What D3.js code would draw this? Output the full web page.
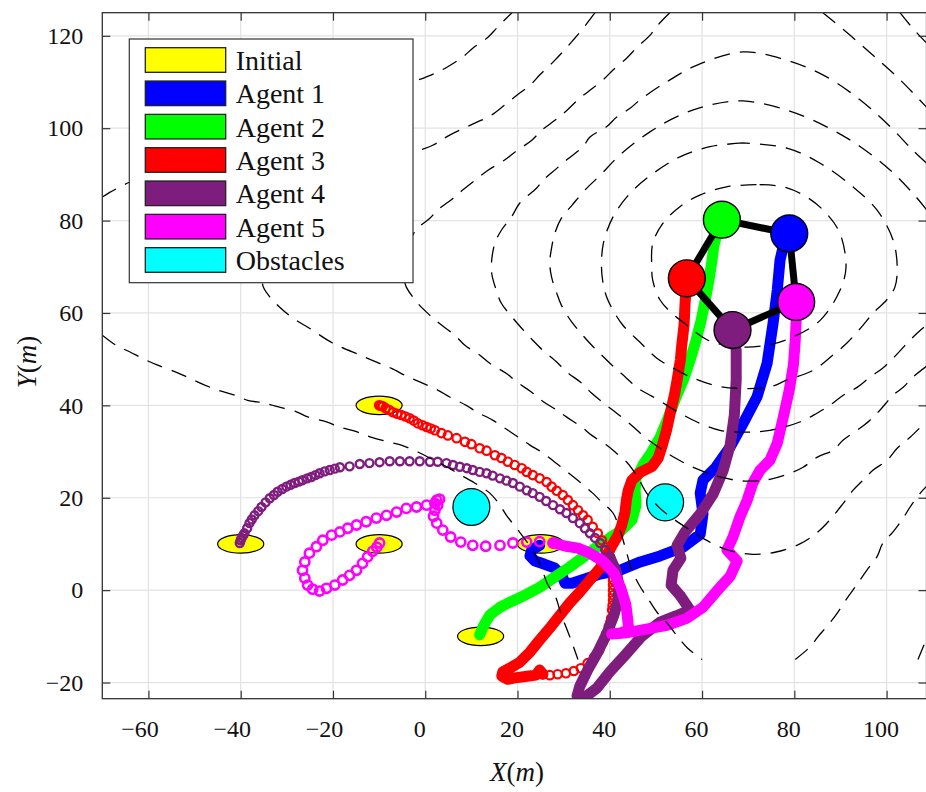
<!DOCTYPE html>
<html>
<head>
<meta charset="utf-8">
<script src="https://cdn.jsdelivr.net/npm/d3@7"></script>
<style>
  body { margin: 0; background: #fff; }
  svg { display: block; }
</style>
</head>
<body>
<svg id="chart" width="926" height="792"></svg>
<script>
// ---------- axis ticks ----------
const xTicks = [-60, -40, -20, 0, 20, 40, 60, 80, 100];
const yTicks = [-20, 0, 20, 40, 60, 80, 100, 120];

// ---------- scene objects (metres) ----------
const initialPositions = [[-40, 10], [-10, 40], [-10, 10], [12, -10], [25, 10]];
const initialRadii = [5, 2];
const obstacleCenters = [[10, 18], [52, 19]];
const obstacleRadius = 4;
// final formation: agents 1..5
const formationNodes = [[78.9, 77.2], [64.3, 80.2], [56.7, 67.5], [66.6, 56.3], [80.4, 62.4]];
const formationLinks = [[1, 0], [0, 4], [4, 3], [3, 2], [2, 1]];
const nodeRadius = 4;

// ---------- legend ----------
const legendNames = ["Initial", "Agent 1", "Agent 2", "Agent 3", "Agent 4", "Agent 5", "Obstacles"];
const legendColors = ["#ffff00", "#0000ff", "#00ff00", "#ff0000", "#7f1d7f", "#ff00ff", "#00ffff"];
const agentColors = ["#0000ff", "#00ff00", "#ff0000", "#7f1d7f", "#ff00ff"];

// ---------- trajectories ----------
const agent1Path = [[24.8,9.7],[23.1,8.7],[22.7,7.4],[23.8,6.3],[25.9,5.6],[28.0,4.8],[29.6,3.2],[30.3,1.5],[31.8,1.5],[34.6,2.4],[37.9,3.5],[42.2,4.3],[46.6,6.1],[50.9,7.4],[55.9,9.3],[59.6,12.1],[60.2,16.5],[59.6,21.0],[60.2,23.8],[63.0,26.6],[66.1,31.0],[68.9,36.1],[71.9,41.8],[74.1,49.1],[75.4,57.8],[76.3,64.9],[76.9,71.4],[77.8,75.3],[78.9,77.2]];

const agent2Path = [[11.8,-9.7],[12.7,-7.6],[14.0,-5.4],[16.2,-3.7],[18.8,-2.4],[21.6,-1.1],[24.8,0.6],[28.0,2.8],[31.3,5.0],[34.6,7.4],[37.4,9.5],[40.0,11.3],[42.6,13.0],[44.8,15.2],[45.7,18.4],[45.5,21.6],[45.7,24.2],[47.2,27.1],[49.1,29.9],[50.9,33.1],[52.6,37.2],[54.3,41.6],[56.1,45.9],[57.4,49.8],[58.7,54.1],[59.8,58.4],[60.7,62.8],[61.5,67.1],[62.1,71.0],[62.6,74.7],[63.4,77.9],[64.3,80.2]];

const agent3Rings = [[-10,40],[-9.6,39.9],[-9.2,39.8],[-8.6,39.4],[-7.8,39.0],[-7.0,38.5],[-6.1,38.2],[-5.2,37.9],[-4.3,37.6],[-3.4,37.2],[-2.5,36.7],[-1.6,36.1],[-0.6,35.7],[0.3,35.3],[1.2,35.0],[2.1,34.6],[3.5,34.0],[4.9,33.5],[6.8,32.9],[8.6,32.1],[10.0,31.6],[11.8,30.7],[13.3,30.2],[15.1,29.2],[16.5,28.6],[17.9,27.8],[19.4,27.1],[20.9,26.4],[22.0,25.6],[23.3,24.9],[24.8,24.2],[26.3,23.4],[27.4,22.4],[28.5,21.5],[29.8,20.6],[30.9,19.5],[32.0,18.4],[33.1,17.3],[34.2,16.2],[35.2,15.2],[36.3,13.7],[37.4,12.3],[38.3,10.8],[39.1,9.3],[39.8,7.6],[40.3,5.8],[40.5,4.1],[40.7,2.2],[40.7,1.1],[40.7,0],[40.7,-1.1],[40.7,-2.2],[40.6,-3.3],[40.5,-4.3],[40.3,-6.1],[40.1,-7.0],[39.8,-7.8],[39.2,-9.5],[38.9,-10.4],[38.5,-11.3],[37.7,-13.0],[36.6,-14.5],[35.2,-15.8],[33.7,-16.9],[32.2,-17.5],[30.5,-18.0],[28.7,-18.2],[27.0,-18.4],[25.5,-18.2]];
const agent3Path = [[25.5,-18.2],[24.8,-17.3],[24.0,-18.4],[22.5,-18.6],[20.9,-18.8],[19.4,-19.0],[17.9,-19.3],[16.6,-18.6],[16.8,-17.7],[18.3,-16.9],[20.5,-15.6],[22.7,-13.4],[24.8,-10.8],[27.0,-8.2],[29.2,-5.4],[31.3,-2.8],[33.5,-0.4],[35.7,2.2],[37.9,4.8],[39.4,7.6],[40.5,9.7],[41.8,11.9],[42.6,14.1],[43.3,16.9],[43.6,19.5],[44.0,21.6],[44.8,23.8],[46.6,25.5],[49.2,26.8],[50.5,28.6],[51.4,31.4],[52.3,34.6],[53.1,38.3],[54.0,42.2],[54.6,45.5],[55.3,49.8],[55.6,53.0],[56.1,57.4],[56.3,61.7],[56.5,64.9],[56.7,67.5]];

const agent4Rings = [[-40.2,10.2],[-40.0,10.8],[-39.8,11.3],[-39.5,11.8],[-39.2,12.3],[-38.6,13.4],[-38.1,14.5],[-37.6,15.3],[-37.0,16.2],[-36.2,17.1],[-35.5,18.0],[-34.6,19.0],[-33.7,19.9],[-32.8,20.6],[-32.0,21.3],[-31.0,21.9],[-30.1,22.4],[-29.2,22.8],[-28.3,23.2],[-27.4,23.5],[-26.6,23.8],[-25.6,24.2],[-24.7,24.5],[-23.8,24.9],[-22.9,25.3],[-21.8,25.7],[-20.7,26.0],[-19.6,26.3],[-18.5,26.6],[-16.4,26.8],[-14.2,27.3],[-12.1,27.5],[-9.9,27.7],[-7.7,27.9],[-5.5,27.9],[-3.4,27.9],[-1.2,27.9],[1.0,27.8],[2.7,27.8],[4.6,27.5],[6.0,27.1],[7.5,26.7],[9.0,26.4],[10.3,26.0],[11.8,25.6],[13.3,25.3],[14.6,24.8],[16.2,24.2],[17.6,23.7],[19.0,23.2],[20.5,22.4],[22.0,21.6],[23.3,21.0],[24.8,20.2],[26.2,19.3],[27.7,18.4],[29.2,17.5],[30.6,16.7],[32.0,15.6],[33.5,14.5],[34.6,13.4],[35.7,12.3],[36.8,11.3],[37.9,10.2],[39.0,8.7],[40.1,7.2]];
const agent4Path = [[40.0,7.1],[41.3,4.3],[42.0,1.1],[41.8,-2.2],[40.9,-5.4],[39.4,-9.3],[37.4,-13.4],[35.2,-17.3],[33.5,-20.8],[32.9,-22.9],[34.6,-23.2],[37.2,-21.2],[40.0,-17.7],[43.3,-14.1],[46.9,-10.0],[50.9,-6.9],[54.3,-5.6],[57.4,-4.3],[55.2,-1.1],[53.3,1.1],[53.7,4.3],[55.4,6.9],[54.6,9.7],[56.3,12.6],[59.6,16.5],[62.4,20.8],[64.6,26.0],[66.1,31.4],[67.0,37.9],[67.4,45.5],[67.4,51.9],[66.6,56.3]];

const agent5Rings = [[-9.9,10.2],[-10.5,9.3],[-11.4,8.4],[-12.5,7.2],[-13.6,5.8],[-14.9,4.3],[-16.4,3.2],[-17.9,2.2],[-19.6,1.1],[-21.4,0.4],[-22.9,-0.2],[-24.4,0.2],[-25.5,1.1],[-26.1,2.6],[-26.6,4.3],[-26.1,6.1],[-25.1,8.0],[-23.6,9.4],[-22.2,10.8],[-20.3,11.9],[-18.5,12.6],[-16.8,13.4],[-14.9,14.1],[-12.8,14.8],[-10.6,15.6],[-8.4,16.2],[-6.2,16.9],[-4.1,17.7],[-1.9,18.0],[0.3,18.4],[2.1,18.8],[2.5,19.5],[3.1,19.7],[2.7,18.4],[2.1,17.3],[1.8,16.0],[2.5,14.5],[3.8,13.0],[5.5,11.5],[7.7,10.4],[10.3,9.7],[13.1,9.5],[16.2,9.7],[19.0,10.2],[22.0,10.4],[24.8,10.5],[27.7,10.2]];
const agent5Path = [[27.7,10.2],[30.5,9.5],[33.1,9.1],[35.7,8.0],[38.5,6.3],[40.9,3.7],[42.4,0.4],[43.5,-3.2],[43.9,-6.5],[44.1,-8.7],[42.2,-9.3],[40.4,-9.5],[43.2,-9.3],[46.5,-8.7],[52.4,-7.6],[56.7,-6.1],[60.2,-3.7],[63.2,-0.2],[66.1,3.0],[67.6,6.3],[65.4,8.7],[66.7,11.5],[68.2,15.8],[69.8,19.5],[71.0,23.2],[72.6,26.0],[74.7,28.1],[76.3,31.8],[77.6,37.4],[78.9,43.3],[79.8,48.7],[80.2,54.1],[80.4,58.4],[80.4,62.4]];

// ---------- potential-field contour lines (inner to outer) ----------
const contour1 = [[71.8,87.8],[65.3,87.3],[59.5,85.5],[55.2,83.0],[51.5,79.4],[49.3,75.0],[49.1,70.0],[49.3,67.1],[50.9,62.8],[53.4,60.0],[55.9,58.0],[61.3,54.1],[67.5,52.7],[74.0,53.0],[79.7,54.8],[85.6,58.4],[89.9,64.9],[91.2,69.9],[89.9,77.2],[87.0,81.5],[82.7,85.1],[77.6,87.3],[71.8,87.8]];
const contour2 = [[68.9,96.8],[61.7,96.0],[55.2,93.8],[49.4,90.2],[44.4,85.9],[40.7,80.8],[38.6,75.0],[38.2,70.0],[38.5,66.7],[39.3,63.5],[40.7,60.6],[42.8,57.4],[46.5,53.7],[50.2,50.2],[53.7,48.1],[56.7,46.5],[62.4,44.4],[67.5,43.7],[74.7,44.0],[78.4,45.5],[84.1,47.6],[88.4,50.9],[91.4,53.5],[94.6,57.0],[97.1,60.0],[100.0,62.8],[101.8,65.6],[102.3,69.9],[101.4,75.8],[97.9,82.3],[92.7,87.3],[85.6,92.4],[78.4,95.7],[68.9,96.8]];
const contour3 = [[108.7,82.3],[105.7,85.9],[100.8,90.9],[94.3,96.0],[87.0,100.3],[78.4,103.9],[68.9,105.9],[61.7,105.0],[55.2,102.8],[48.7,99.2],[42.2,94.2],[37.9,89.8],[34.6,86.6],[31.8,83.3],[29.6,80.7],[28.1,77.3],[27.4,74.2],[27.0,70.8],[27.4,67.7],[28.5,64.3],[29.5,61.7],[31.7,58.1],[33.5,55.9],[36.1,53.0],[38.2,50.9],[41.1,48.1],[43.3,46.2],[46.1,43.7],[49.1,42.0],[52.4,40.0],[55.2,38.3],[58.9,36.4],[63.9,34.6],[69.3,34.2],[74.7,34.6],[81.2,36.4],[84.9,38.3],[87.7,40.0],[90.6,42.2],[93.6,43.9],[96.4,46.1],[99.2,48.1],[101.4,50.2],[104.5,53.5],[106.6,55.6],[108.7,57.4]];
const contour4 = [[108.7,92.4],[105.7,95.2],[100.8,100.3],[94.3,106.1],[87.0,111.1],[78.4,114.7],[68.9,116.5],[58.8,113.6],[52.3,110.0],[50.2,108.7],[46.5,106.1],[44.4,104.3],[41.5,102.4],[39.3,100.3],[35.7,98.1],[34.2,96.0],[30.6,93.1],[28.5,91.3],[25.5,88.7],[24.1,87.0],[20.5,83.8],[18.7,80.8],[16.5,77.9],[15.1,75.1],[14.4,71.4],[14.4,68.6],[15.4,64.9],[16.5,62.1],[19.0,58.9],[20.9,56.7],[23.3,54.1],[25.5,51.9],[28.5,49.4],[30.6,47.3],[33.9,44.8],[36.1,42.6],[39.3,40.0],[41.5,38.3],[44.7,35.7],[47.6,33.1],[50.9,30.7],[54.2,28.6],[58.5,26.4],[63.9,24.5],[69.3,23.6],[74.7,24.0],[79.1,25.3],[81.9,26.6],[85.0,28.8],[88.4,30.3],[90.6,32.5],[93.6,34.6],[96.4,36.8],[98.6,39.0],[101.4,42.2],[103.6,43.9],[105.7,46.1],[108.7,48.5]];
const contour5 = [[53.0,125],[50.4,122.3],[48.7,120.1],[45.9,117.5],[43.7,115.2],[40.7,112.6],[38.9,110.8],[35.7,108.2],[33.5,106.5],[30.3,103.5],[28.1,101.7],[25.3,99.6],[23.1,97.4],[19.4,94.8],[17.2,93.1],[13.6,90.9],[11.4,89.2],[8.1,86.6],[6.0,84.8],[2.7,82.3],[1.0,80.5],[-2.3,77.6],[-4.4,70.0],[-4.4,66.5],[-4.1,65.6],[-1.9,62.4],[1.0,59.5],[3.1,57.7],[6.4,55.2],[8.6,53.0],[11.8,50.9],[14.0,49.1],[17.6,46.9],[19.8,45.1],[23.0,42.9],[25.6,40.8],[28.5,39.0],[30.6,37.5],[33.9,35.3],[36.1,33.5],[39.3,31.4],[41.5,29.6],[43.6,27.8],[45.9,24.7],[48.0,21.0],[50.9,17.7],[54.1,15.2],[57.4,13.0],[60.6,11.0],[65.0,8.9],[70.4,7.8],[75.8,8.2],[81.2,10.0],[85.1,12.6],[87.7,15.2],[90.6,18.8],[92.7,21.6],[94.9,23.8],[97.1,26.0],[100.1,28.1],[102.3,30.7],[105.1,33.1],[108.7,36.6]];
const contour5b = [[86.2,125],[92.1,120.1],[97.5,115.4],[103.0,110.4],[108.7,104.5]];
const contour6 = [[36.8,125],[34.2,121.6],[32.0,119.0],[29.8,116.5],[27.7,114.3],[24.8,111.5],[22.7,109.3],[19.8,107.1],[17.2,105.0],[14.0,102.6],[11.2,101.3],[5.3,98.5],[1.6,96.3],[-2.7,94.6],[-20.7,85.5],[-31.6,75.8],[-35.3,66.5],[-33.7,63.5],[-31.6,61.3],[-28.7,58.9],[-25.1,56.7],[-20.1,53.5],[-14.2,50.9],[-9.9,49.1],[-7.3,48.0],[-3.8,46.2],[-1.2,45.1],[2.7,43.3],[5.3,41.8],[8.9,40.0],[11.1,38.6],[14.6,36.8],[17.2,35.1],[20.5,32.9],[22.7,31.4],[25.5,29.7],[28.1,27.7],[30.9,25.5],[33.5,23.4],[36.3,21.0],[38.3,19.0],[40.7,16.7],[42.2,13.0],[43.5,8.7],[44.8,4.3],[46.5,0.9],[48.2,-1.7],[50.4,-5.0],[52.4,-7.1],[54.8,-10.2],[56.9,-12.6],[60.0,-15]];
const contour6b = [[102.9,125],[105.7,121.6],[108.7,118.4]];
const contour6c = [[80.2,-15],[83.4,-12.3],[85.1,-10.1],[87.7,-7.1],[89.5,-4.7],[91.6,-1.5],[93.5,1.1],[95.7,4.3],[97.9,7.2],[99.2,10.2],[101.4,12.6],[103.6,15.6],[105.1,18.0],[107.3,21.0],[108.7,22.5]];
const contour7 = [[-70,85.1],[-68.4,86.1],[-66.7,87.0],[-64.1,88.3],[-31.6,99.6],[-1.6,110.4],[2.1,111.9],[4.7,113.2],[8.1,115.4],[10.3,117.3],[13.6,119.7],[15.7,121.9],[18.8,125]];
const contour7b = [[-70,55.2],[-67.0,53.0],[-64.1,51.6],[-60.5,49.8],[-58.0,48.7],[-54.3,47.3],[-51.8,46.2],[-47.8,44.4],[-45.0,43.3],[-41.3,42.2],[-38.5,41.1],[-34.8,40.5],[-32.0,39.7],[-27.9,38.6],[-25.5,37.5],[-21.4,36.4],[-18.5,35.3],[-14.9,34.3],[-12.0,33.2],[-8.1,32.1],[-5.2,31.4],[-1.6,29.9],[1.0,28.6],[4.6,26.7],[7.0,25.3],[10.7,23.2],[14.0,21.0],[16.2,18.4],[17.6,16.2],[19.8,13.4],[22.0,10.5],[24.1,7.2],[25.2,4.8],[26.6,1.1],[28.1,-1.1],[29.5,-5.4],[30.6,-8.2],[32.0,-11.9],[33.1,-15]];
const contour7c = [[106.8,-15],[108.7,-10.4]];
const contourLines = [contour1, contour2, contour3, contour4, contour5, contour5b, contour6, contour6b, contour6c, contour7, contour7b, contour7c];

// ---------- layout ----------
const svg = d3.select("#chart");
const plot = { left: 102.3, right: 926.5, top: 12.7, bottom: 698.7 };
const x = d3.scaleLinear().domain([-70, 108.65]).range([plot.left, plot.right]);
const y = d3.scaleLinear().domain([-23.5, 125]).range([plot.bottom, plot.top]);
const serif = "'Liberation Serif', 'Times New Roman', serif";

svg.append("defs").append("clipPath").attr("id", "plotClip")
  .append("rect")
  .attr("x", plot.left).attr("y", plot.top)
  .attr("width", plot.right - plot.left).attr("height", plot.bottom - plot.top);

// grid
const grid = svg.append("g").attr("stroke", "#e2e2e2").attr("stroke-width", 1.2);
grid.selectAll("line.gx").data(xTicks).join("line")
  .attr("x1", d => x(d)).attr("x2", d => x(d))
  .attr("y1", plot.top).attr("y2", plot.bottom);
grid.selectAll("line.gy").data(yTicks).join("line")
  .attr("y1", d => y(d)).attr("y2", d => y(d))
  .attr("x1", plot.left).attr("x2", plot.right);

const layer = svg.append("g").attr("clip-path", "url(#plotClip)");

// initial positions
layer.append("g").selectAll("ellipse").data(initialPositions).join("ellipse")
  .attr("cx", d => x(d[0])).attr("cy", d => y(d[1]))
  .attr("rx", x(initialRadii[0]) - x(0)).attr("ry", y(0) - y(initialRadii[1]))
  .attr("fill", "#ffff00").attr("stroke", "#000").attr("stroke-width", 1.2);

// obstacles
layer.append("g").selectAll("circle").data(obstacleCenters).join("circle")
  .attr("cx", d => x(d[0])).attr("cy", d => y(d[1]))
  .attr("r", x(obstacleRadius) - x(0))
  .attr("fill", "#00ffff").attr("stroke", "#000").attr("stroke-width", 1.2);

const line = d3.line().x(d => x(d[0])).y(d => y(d[1]));
const smoothLine = d3.line().x(d => x(d[0])).y(d => y(d[1])).curve(d3.curveCatmullRom.alpha(0.5));

function thick(path, color) {
  layer.append("path").datum(path).attr("d", line)
    .attr("fill", "none").attr("stroke", color).attr("stroke-width", 11)
    .attr("stroke-linejoin", "round").attr("stroke-linecap", "round");
}
function rings(points, color, r, w) {
  layer.append("g").selectAll("circle").data(points).join("circle")
    .attr("cx", d => x(d[0])).attr("cy", d => y(d[1])).attr("r", r)
    .attr("fill", "none").attr("stroke", color).attr("stroke-width", w);
}

thick(agent1Path, agentColors[0]);
thick(agent2Path, agentColors[1]);
rings(agent3Rings, agentColors[2], 4.2, 2.2);
thick(agent3Path, agentColors[2]);
rings(agent4Rings, agentColors[3], 4.0, 2.4);
thick(agent4Path, agentColors[3]);
rings(agent5Rings, agentColors[4], 4.6, 2.6);
thick(agent5Path, agentColors[4]);

// contour lines
layer.append("g").selectAll("path").data(contourLines).join("path")
  .attr("d", smoothLine).attr("fill", "none")
  .attr("stroke", "#000").attr("stroke-width", 1.3)
  .attr("stroke-dasharray", "16,10");

// final formation
layer.append("g").selectAll("line").data(formationLinks).join("line")
  .attr("x1", d => x(formationNodes[d[0]][0])).attr("y1", d => y(formationNodes[d[0]][1]))
  .attr("x2", d => x(formationNodes[d[1]][0])).attr("y2", d => y(formationNodes[d[1]][1]))
  .attr("stroke", "#000").attr("stroke-width", 7);
layer.append("g").selectAll("circle").data(formationNodes).join("circle")
  .attr("cx", d => x(d[0])).attr("cy", d => y(d[1]))
  .attr("r", x(nodeRadius) - x(0))
  .attr("fill", (d, i) => agentColors[i]).attr("stroke", "#000").attr("stroke-width", 1.4);

// axes
const fmt = d => (d < 0 ? "\u2212" + Math.abs(d) : String(d));
function styleAxis(g) {
  g.attr("font-family", serif).attr("font-size", 24);
  g.select(".domain").remove();
  g.selectAll(".tick line").attr("stroke", "#333").attr("stroke-width", 1.2);
  g.selectAll(".tick text").attr("fill", "#111")
    .attr("font-family", serif).style("font-family", serif).style("font-size", "24px");
}
const gx = svg.append("g").attr("transform", `translate(0,${plot.bottom})`)
  .call(d3.axisBottom(x).tickValues(xTicks).tickSize(-8).tickPadding(21).tickFormat(fmt));
styleAxis(gx);
gx.selectAll(".tick text").attr("dx", d => (d < 0 ? -9 : -6));
const gy = svg.append("g").attr("transform", `translate(${plot.left},0)`)
  .call(d3.axisLeft(y).tickValues(yTicks).tickSize(-8).tickPadding(19).tickFormat(fmt));
styleAxis(gy);
const gt = svg.append("g").attr("transform", `translate(0,${plot.top})`)
  .call(d3.axisTop(x).tickValues(xTicks).tickSize(-8).tickFormat(""));
styleAxis(gt);
const gr = svg.append("g").attr("transform", `translate(${plot.right},0)`)
  .call(d3.axisRight(y).tickValues(yTicks).tickSize(-8).tickFormat(""));
styleAxis(gr);

svg.append("rect")
  .attr("x", plot.left).attr("y", plot.top)
  .attr("width", plot.right - plot.left).attr("height", plot.bottom - plot.top)
  .attr("fill", "none").attr("stroke", "#333").attr("stroke-width", 1.3);

// axis titles
const xt = svg.append("text").attr("x", 517).attr("y", 781)
  .attr("text-anchor", "middle").style("font-family", serif).style("font-size", "27px").attr("fill", "#111");
xt.append("tspan").attr("font-style", "italic").text("X");
xt.append("tspan").text("(");
xt.append("tspan").attr("font-style", "italic").text("m");
xt.append("tspan").text(")");
const yt = svg.append("text").attr("transform", "translate(36,362) rotate(-90)")
  .attr("text-anchor", "middle").style("font-family", serif).style("font-size", "27px").attr("fill", "#111");
yt.append("tspan").attr("font-style", "italic").text("Y");
yt.append("tspan").text("(");
yt.append("tspan").attr("font-style", "italic").text("m");
yt.append("tspan").text(")");

// legend
const legend = svg.append("g");
legend.append("rect").attr("x", 129.3).attr("y", 39).attr("width", 283.7).attr("height", 243.7)
  .attr("fill", "#fff").attr("stroke", "#333").attr("stroke-width", 1.2);
const rows = legend.selectAll("g.row").data(legendNames).join("g")
  .attr("transform", (d, i) => `translate(0,${60 + i * 33.33})`);
rows.append("rect").attr("x", 145.3).attr("y", -12.3).attr("width", 80.4).attr("height", 24.6)
  .attr("fill", (d, i) => legendColors[i]).attr("stroke", "#222").attr("stroke-width", 1.3);
rows.append("text").attr("x", 235.7).attr("y", 10)
  .style("font-family", serif).style("font-size", "28px").attr("fill", "#111")
  .text(d => d);
</script>
</body>
</html>
